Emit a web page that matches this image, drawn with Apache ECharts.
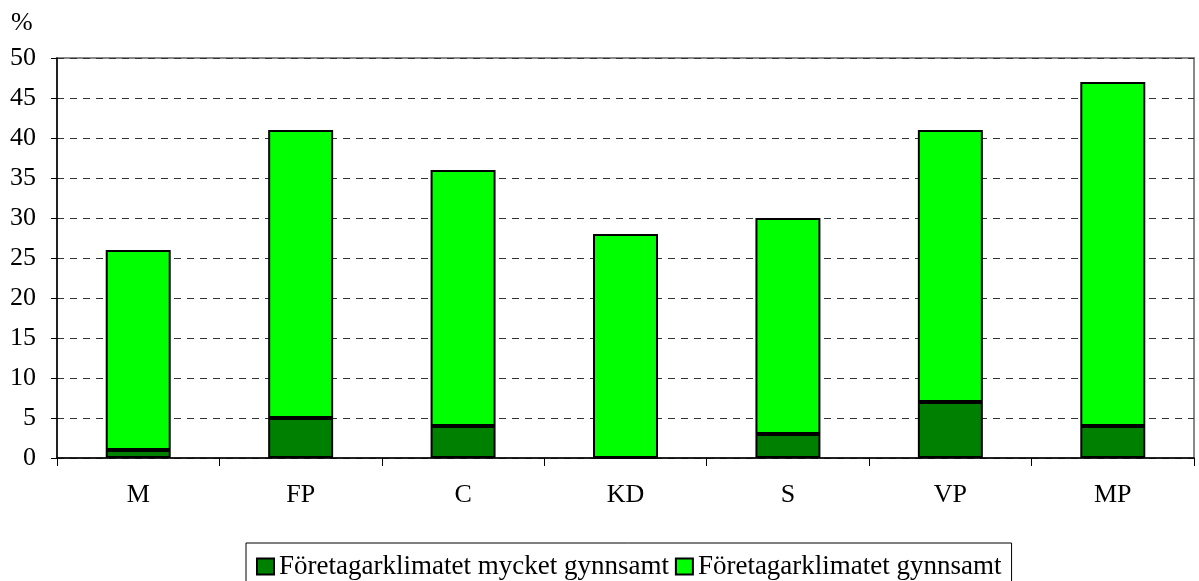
<!DOCTYPE html>
<html lang="sv">
<head>
<meta charset="UTF-8">
<title>Företagarklimatet</title>
<script src="https://cdn.jsdelivr.net/npm/echarts@6/dist/echarts.min.js"></script>
<style>
    html, body { margin: 0; padding: 0; background: #fff; }
    #chart { width: 1199px; height: 581px; }
</style>
</head>
<body>

<div id="chart"></div>

<script>
// parties on the x axis
var parties = ['M', 'FP', 'C', 'KD', 'S', 'VP', 'MP'];
// "mycket gynnsamt" (bottom, dark green)
var veryFavourable = [1, 5, 4, 0, 3, 7, 4];
// "gynnsamt" (stacked on top, bright green)
var favourable = [25, 36, 32, 28, 27, 34, 43];
var seriesNames = ['Företagarklimatet mycket gynnsamt', 'Företagarklimatet gynnsamt'];

var font = '"Liberation Serif", "DejaVu Serif", serif';

var myChart = echarts.init(document.getElementById('chart'));

var option = {
    animation: false,
    title: {
        text: '%',
        left: 11,
        top: 10,
        padding: 0,
        textStyle: { fontFamily: font, fontSize: 26, fontWeight: 'normal', color: '#000' }
    },
    grid: {
        left: 57,
        right: 5,
        top: 58,
        bottom: 123,
        show: true,
        borderColor: '#888',
        borderWidth: 2
    },
    legend: {
        left: 246,
        top: 543,
        borderColor: '#000',
        borderWidth: 1,
        padding: [10, 10, 10, 10],
        itemWidth: 17,
        itemHeight: 16,
        itemGap: 6,
        icon: 'rect',
        textStyle: { fontFamily: font, fontSize: 27, color: '#000' },
        data: seriesNames
    },
    xAxis: {
        type: 'category',
        data: parties,
        axisLine: { lineStyle: { color: '#000', width: 1.5 } },
        axisTick: { show: true, length: 8, lineStyle: { color: '#000' } },
        axisLabel: { fontFamily: font, fontSize: 26, color: '#000', margin: 24 }
    },
    yAxis: {
        type: 'value',
        min: 0,
        max: 50,
        interval: 5,
        axisLine: { show: true, lineStyle: { color: '#000', width: 1.5 } },
        axisTick: { show: true, length: 6, lineStyle: { color: '#000' } },
        axisLabel: { fontFamily: font, fontSize: 26, color: '#000', margin: 21 },
        splitLine: { lineStyle: { color: '#333', type: [7, 6], width: 1 } }
    },
    series: [
        {
            name: seriesNames[0],
            type: 'bar',
            stack: 'total',
            barWidth: '40%',
            data: veryFavourable,
            itemStyle: { color: '#008000', borderColor: '#000', borderWidth: 2 }
        },
        {
            name: seriesNames[1],
            type: 'bar',
            stack: 'total',
            barWidth: '40%',
            data: favourable,
            itemStyle: { color: '#00FF00', borderColor: '#000', borderWidth: 2 }
        }
    ]
};

myChart.setOption(option);
</script>

</body>
</html>
